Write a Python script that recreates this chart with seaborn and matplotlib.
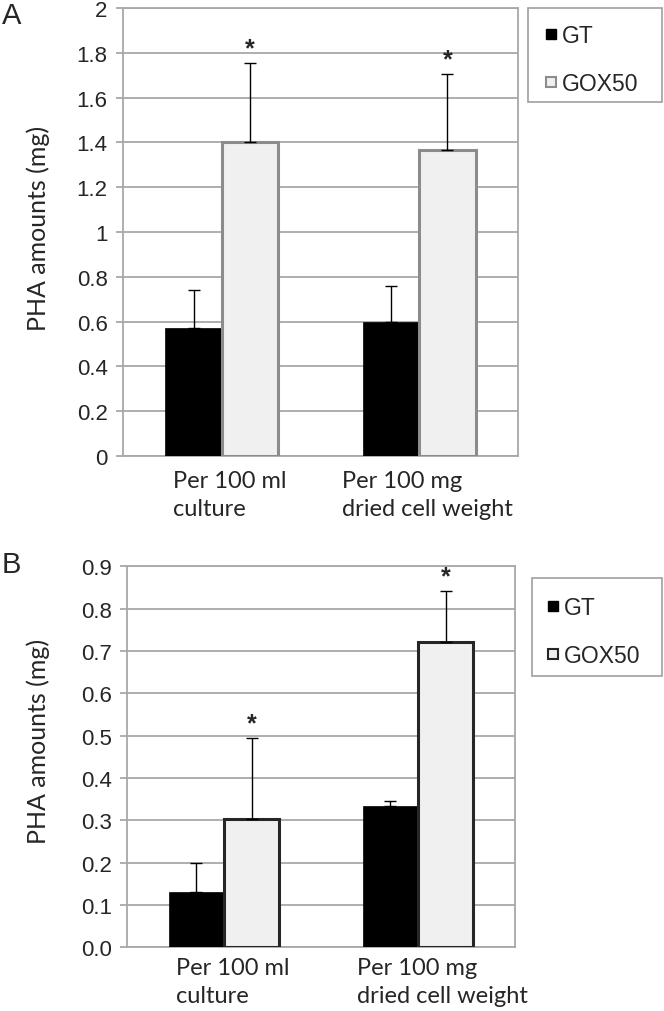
import numpy as np
import pandas as pd
import matplotlib
matplotlib.use("Agg")
import matplotlib.pyplot as plt
import matplotlib.transforms as mtransforms
import seaborn as sns
from matplotlib.lines import Line2D
from matplotlib.patches import Rectangle

categories = ["Per 100 ml\nculture", "Per 100 mg\ndried cell weight"]
groups = ["GT", "GOX50"]

# panel A
a_gt = [0.57, 0.60]
a_gt_err = [0.17, 0.16]
a_gox = [1.40, 1.367]
a_gox_err = [0.355, 0.337]
a_ticks = [0, 0.2, 0.4, 0.6, 0.8, 1, 1.2, 1.4, 1.6, 1.8, 2]
a_ticklabels = ["0", "0.2", "0.4", "0.6", "0.8", "1", "1.2", "1.4", "1.6", "1.8", "2"]

# panel B
b_gt = [0.13, 0.333]
b_gt_err = [0.068, 0.013]
b_gox = [0.303, 0.722]
b_gox_err = [0.192, 0.12]
b_ticks = [0.0, 0.1, 0.2, 0.3, 0.4, 0.5, 0.6, 0.7, 0.8, 0.9]
b_ticklabels = ["0.0", "0.1", "0.2", "0.3", "0.4", "0.5", "0.6", "0.7", "0.8", "0.9"]

sns.set_style("white")
plt.rcParams['font.family'] = ['Liberation Sans', 'DejaVu Sans']

grid_col = '#a8a8a8'
light = '#f0f0f0'

fig = plt.figure(figsize=(6.64, 10.12), dpi=100)


def panel(ax, gt, gt_err, gox, gox_err, ticks, ticklabels, ymax, gox_edge,
          lab_xy, xpad, shifts):
    df = pd.DataFrame({
        'cat': categories * 2,
        'group': [groups[0]] * 2 + [groups[1]] * 2,
        'val': list(gt) + list(gox),
    })
    sns.barplot(data=df, x='cat', y='val', hue='group', order=categories, hue_order=groups,
                palette=['black', light], width=0.57, errorbar=None, legend=False,
                saturation=1, ax=ax, zorder=3)
    errs = [gt_err, gox_err]
    vals = [gt, gox]
    bar_conts = list(ax.containers)
    for i, cont in enumerate(bar_conts):
        xs = [p.get_x() + p.get_width() / 2 for p in cont.patches]
        for p in cont.patches:
            if i == 0:
                p.set_edgecolor('black')
                p.set_linewidth(0.5)
            else:
                p.set_edgecolor(gox_edge)
                p.set_linewidth(2.2)
        ax.errorbar(xs, vals[i], yerr=[np.zeros(len(xs)), errs[i]], fmt='none',
                    ecolor='black', elinewidth=1, capsize=4, capthick=1, zorder=4)
        if i == 1:
            for x, v, e in zip(xs, vals[i], errs[i]):
                ax.annotate('*', (x, v + e), xytext=(0, 2), textcoords='offset points',
                            ha='center', va='bottom', fontsize=18, fontweight='bold')
    ax.set_xlim(-0.5, 1.5)
    ax.set_ylim(0, ymax)
    ax.set_yticks(ticks)
    ax.set_yticklabels(ticklabels, fontsize=16)
    ax.yaxis.grid(True, color=grid_col, linewidth=1.3, zorder=0)
    ax.set_axisbelow(True)
    for s in ax.spines.values():
        s.set_color(grid_col)
        s.set_linewidth(1.3)
    ax.tick_params(axis='y', length=5, color=grid_col, width=1.3, pad=6, left=True)
    ax.tick_params(axis='x', length=0, pad=xpad)
    ax.set_xticks([0, 1])
    ax.set_xticklabels(categories, fontsize=17, family='Lato', linespacing=1.4)
    for t, dx in zip(ax.get_xticklabels(), shifts):
        t.set_multialignment('left')
        t.set_transform(t.get_transform() +
                        mtransforms.ScaledTranslation(dx / 100, 0, fig.dpi_scale_trans))
    ax.set_xlabel('')
    ax.set_ylabel('PHA amounts (mg)', fontsize=18, family='Lato')
    ax.yaxis.set_label_coords(*lab_xy)


axA = fig.add_axes([123 / 664, 1 - 457 / 1012, 395 / 664, 448 / 1012])
axB = fig.add_axes([127 / 664, 1 - 948.3 / 1012, 388 / 664, 381 / 1012])

panel(axA, a_gt, a_gt_err, a_gox, a_gox_err, a_ticks, a_ticklabels, 2, '#8c8c8c',
      (-0.185, 0.511), 10, [8, 8])
panel(axB, b_gt, b_gt_err, b_gox, b_gox_err, b_ticks, b_ticklabels, 0.9, '#262626',
      (-0.198, 0.544), 7, [9, 24])

fig.text(2 / 664, 1 - 16 / 1012, 'A', fontsize=21, va='center', ha='left')
fig.text(2 / 664, 1 - 565 / 1012, 'B', fontsize=21, va='center', ha='left')


def legend_box(x0, y0, x1, y1, edge, gox_edge, lx, ly):
    fig.patches.append(Rectangle((x0 / 664, 1 - y1 / 1012), (x1 - x0) / 664, (y1 - y0) / 1012,
                                 transform=fig.transFigure, facecolor='white',
                                 edgecolor=edge, linewidth=1.2))
    handles = [
        Line2D([], [], marker='s', linestyle='none', markersize=6.5,
               markerfacecolor='black', markeredgecolor='black'),
        Line2D([], [], marker='s', linestyle='none', markersize=6.5,
               markerfacecolor=light, markeredgecolor=gox_edge, markeredgewidth=1.5),
    ]
    fig.legend(handles, groups, loc='upper left', bbox_to_anchor=(lx / 664, 1 - ly / 1012),
               frameon=False, fontsize=16.5, handlelength=0.5, handletextpad=0.25,
               labelspacing=1.08, borderpad=0, borderaxespad=0)


legend_box(528, 9, 662, 103, '#a0a0a0', '#8c8c8c', 545, 25)
legend_box(532, 579, 662, 677, '#a0a0a0', '#262626', 547, 597)

fig.savefig('out.png', dpi=100)
